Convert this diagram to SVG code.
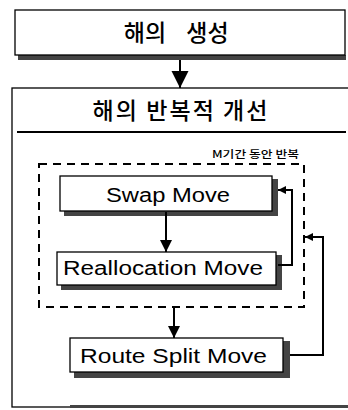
<svg xmlns="http://www.w3.org/2000/svg" width="348" height="410" viewBox="0 0 348 410">
<style>
.box{fill:#fff;stroke:#000;stroke-width:1.3}
.sh{fill:#444}
.t{font-family:"Noto Sans CJK KR","Noto Sans",sans-serif;fill:#000;text-anchor:middle;font-weight:500}
.e{font-family:"Liberation Sans",Arial,sans-serif;fill:#000;font-size:20px}
.ln{fill:none;stroke:#000;stroke-width:2}
</style>
<defs>
<marker id="big" viewBox="0 0 10 10" refX="10" refY="5" markerWidth="17" markerHeight="18" orient="auto" markerUnits="userSpaceOnUse">
<path d="M0,0L10,5L0,10z" fill="#000"/>
</marker>
<marker id="med" viewBox="0 0 10 10" refX="10" refY="5" markerWidth="13" markerHeight="12" orient="auto" markerUnits="userSpaceOnUse">
<path d="M0,0L10,5L0,10z" fill="#000"/>
</marker>
<marker id="sm" viewBox="0 0 10 10" refX="10" refY="5" markerWidth="8" markerHeight="8" orient="auto" markerUnits="userSpaceOnUse">
<path d="M0,0L10,5L0,10z" fill="#000"/>
</marker>
</defs>
<g id="gen">
<rect class="sh" x="18" y="55" width="328" height="5"/>
<rect class="box" x="15" y="10" width="330" height="45"/>
<text class="t" x="145" y="41" font-size="23">해의</text>
<text class="t" x="207.5" y="41" font-size="23">생성</text>
</g>
<g id="improve">
<rect x="12" y="88" width="340" height="319" fill="#fff" stroke="#000" stroke-width="1.3"/>
<rect class="sh" x="70" y="405" width="280" height="3"/>
<text class="t" x="180" y="119" font-size="23" textLength="175" lengthAdjust="spacing">해의 반복적 개선</text>
<line x1="17" y1="132" x2="346" y2="132" stroke="#000" stroke-width="2"/>
</g>
<g id="loopM">
<rect x="39" y="164" width="265" height="143" fill="none" stroke="#000" stroke-width="2" stroke-dasharray="8,6"/>
<text class="t" x="255.5" y="158" font-size="10.5" textLength="87" lengthAdjust="spacingAndGlyphs">M기간 동안 반복</text>
</g>
<g id="swap">
<rect class="sh" x="64" y="179" width="214" height="37"/>
<rect class="box" x="60" y="176" width="212" height="35"/>
<text class="e" x="106" y="202" textLength="124" lengthAdjust="spacingAndGlyphs">Swap Move</text>
</g>
<g id="realloc">
<rect class="sh" x="61" y="255" width="221" height="35"/>
<rect class="box" x="57" y="252" width="219" height="33"/>
<text class="e" x="63" y="275" textLength="200" lengthAdjust="spacingAndGlyphs">Reallocation Move</text>
</g>
<g id="split">
<rect class="sh" x="74" y="341" width="216" height="37"/>
<rect class="box" x="70" y="338" width="213" height="34"/>
<text class="e" x="80" y="363" textLength="187" lengthAdjust="spacingAndGlyphs">Route Split Move</text>
</g>
<g id="connectors">
<line class="ln" x1="180" y1="60" x2="180" y2="88" stroke-width="3" marker-end="url(#big)"/>
<line class="ln" x1="166" y1="212" x2="166" y2="252" marker-end="url(#med)"/>
<polyline class="ln" points="278,265 292,265 292,190 278,190" marker-end="url(#sm)"/>
<line class="ln" x1="174" y1="308" x2="174" y2="338" marker-end="url(#med)"/>
<polyline class="ln" points="290,355 323,355 323,237 305,237" marker-end="url(#sm)"/>
</g>
</svg>
